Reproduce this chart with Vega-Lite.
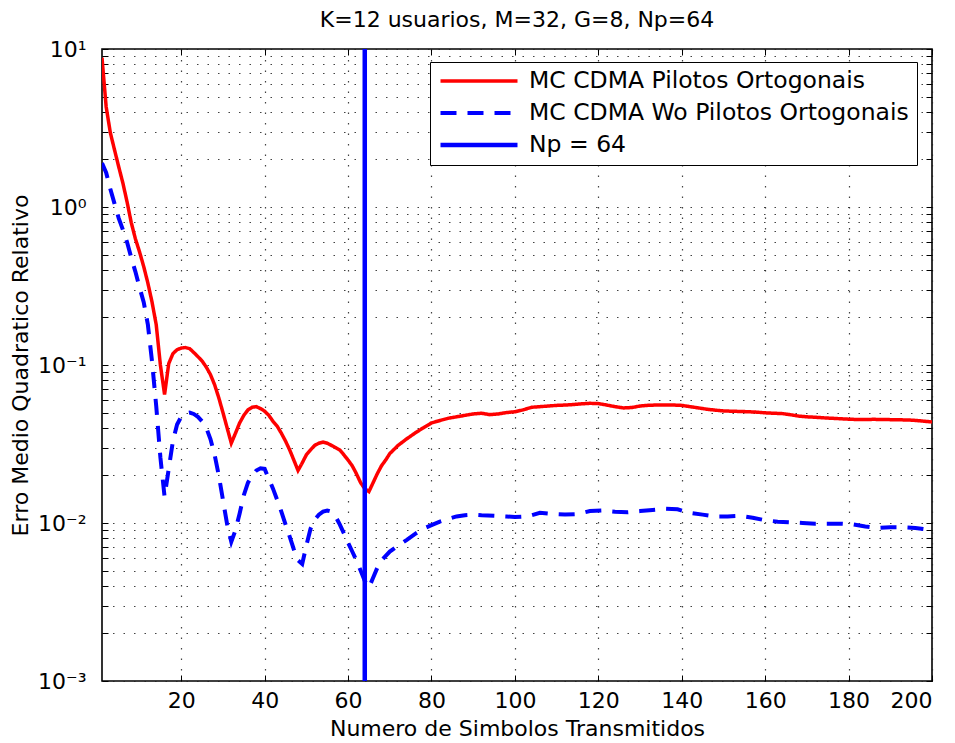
{
  "$schema": "https://vega.github.io/schema/vega-lite/v6.json",
  "width": 830,
  "height": 632,
  "autosize": {"type": "none"},
  "padding": {"left": 102, "top": 49, "right": 23, "bottom": 62},
  "background": "white",
  "title": {"text": "K=12 usuarios, M=32, G=8, Np=64", "font": "DejaVu Sans", "fontSize": 22, "fontWeight": "normal", "color": "black", "offset": 6},
  "resolve": {"axis": {"x": "independent", "y": "independent"}},
  "config": {
    "view": {"stroke": "black", "strokeWidth": 1.6},
    "font": "DejaVu Sans",
    "axis": {"labelFont": "DejaVu Sans", "labelFontSize": 22, "labelColor": "black", "titleFont": "DejaVu Sans", "titleFontSize": 22, "titleFontWeight": "normal", "titleColor": "black", "domain": false, "tickColor": "black", "tickSize": -6, "tickWidth": 1, "gridColor": "#222", "gridDash": [1.5, 9], "gridWidth": 1.2, "gridOpacity": 0.85, "labelOverlap": false},
    "legend": {"orient": "none", "legendX": 328, "legendY": 13, "strokeColor": "black", "fillColor": "white", "padding": 8, "labelFont": "DejaVu Sans", "labelFontSize": 23.5, "labelColor": "black", "symbolType": "stroke", "symbolSize": 5929, "labelOffset": 9, "rowPadding": 8, "clipHeight": 22, "title": null, "symbolOpacity": 1, "labelLimit": 600}
  },
  "datasets": {
    "curvas": [
      {"n": 1, "erro": 8.8, "serie": "MC CDMA Pilotos Ortogonais"},
      {"n": 2, "erro": 4.3, "serie": "MC CDMA Pilotos Ortogonais"},
      {"n": 3, "erro": 2.95, "serie": "MC CDMA Pilotos Ortogonais"},
      {"n": 4, "erro": 2.3, "serie": "MC CDMA Pilotos Ortogonais"},
      {"n": 5, "erro": 1.8, "serie": "MC CDMA Pilotos Ortogonais"},
      {"n": 6, "erro": 1.42, "serie": "MC CDMA Pilotos Ortogonais"},
      {"n": 7, "erro": 1.08, "serie": "MC CDMA Pilotos Ortogonais"},
      {"n": 8, "erro": 0.8, "serie": "MC CDMA Pilotos Ortogonais"},
      {"n": 9, "erro": 0.63, "serie": "MC CDMA Pilotos Ortogonais"},
      {"n": 10, "erro": 0.52, "serie": "MC CDMA Pilotos Ortogonais"},
      {"n": 11, "erro": 0.42, "serie": "MC CDMA Pilotos Ortogonais"},
      {"n": 12, "erro": 0.33, "serie": "MC CDMA Pilotos Ortogonais"},
      {"n": 13, "erro": 0.25, "serie": "MC CDMA Pilotos Ortogonais"},
      {"n": 14, "erro": 0.18, "serie": "MC CDMA Pilotos Ortogonais"},
      {"n": 15, "erro": 0.1, "serie": "MC CDMA Pilotos Ortogonais"},
      {"n": 16, "erro": 0.065, "serie": "MC CDMA Pilotos Ortogonais"},
      {"n": 17, "erro": 0.102, "serie": "MC CDMA Pilotos Ortogonais"},
      {"n": 18, "erro": 0.118, "serie": "MC CDMA Pilotos Ortogonais"},
      {"n": 19, "erro": 0.125, "serie": "MC CDMA Pilotos Ortogonais"},
      {"n": 20, "erro": 0.128, "serie": "MC CDMA Pilotos Ortogonais"},
      {"n": 21, "erro": 0.129, "serie": "MC CDMA Pilotos Ortogonais"},
      {"n": 22, "erro": 0.127, "serie": "MC CDMA Pilotos Ortogonais"},
      {"n": 23, "erro": 0.12, "serie": "MC CDMA Pilotos Ortogonais"},
      {"n": 24, "erro": 0.113, "serie": "MC CDMA Pilotos Ortogonais"},
      {"n": 25, "erro": 0.106, "serie": "MC CDMA Pilotos Ortogonais"},
      {"n": 26, "erro": 0.097, "serie": "MC CDMA Pilotos Ortogonais"},
      {"n": 27, "erro": 0.087, "serie": "MC CDMA Pilotos Ortogonais"},
      {"n": 28, "erro": 0.075, "serie": "MC CDMA Pilotos Ortogonais"},
      {"n": 29, "erro": 0.062, "serie": "MC CDMA Pilotos Ortogonais"},
      {"n": 30, "erro": 0.05, "serie": "MC CDMA Pilotos Ortogonais"},
      {"n": 31, "erro": 0.04, "serie": "MC CDMA Pilotos Ortogonais"},
      {"n": 32, "erro": 0.032, "serie": "MC CDMA Pilotos Ortogonais"},
      {"n": 33, "erro": 0.037, "serie": "MC CDMA Pilotos Ortogonais"},
      {"n": 34, "erro": 0.043, "serie": "MC CDMA Pilotos Ortogonais"},
      {"n": 35, "erro": 0.048, "serie": "MC CDMA Pilotos Ortogonais"},
      {"n": 36, "erro": 0.052, "serie": "MC CDMA Pilotos Ortogonais"},
      {"n": 37, "erro": 0.054, "serie": "MC CDMA Pilotos Ortogonais"},
      {"n": 38, "erro": 0.0545, "serie": "MC CDMA Pilotos Ortogonais"},
      {"n": 39, "erro": 0.053, "serie": "MC CDMA Pilotos Ortogonais"},
      {"n": 40, "erro": 0.051, "serie": "MC CDMA Pilotos Ortogonais"},
      {"n": 41, "erro": 0.048, "serie": "MC CDMA Pilotos Ortogonais"},
      {"n": 42, "erro": 0.044, "serie": "MC CDMA Pilotos Ortogonais"},
      {"n": 43, "erro": 0.041, "serie": "MC CDMA Pilotos Ortogonais"},
      {"n": 44, "erro": 0.037, "serie": "MC CDMA Pilotos Ortogonais"},
      {"n": 45, "erro": 0.033, "serie": "MC CDMA Pilotos Ortogonais"},
      {"n": 46, "erro": 0.029, "serie": "MC CDMA Pilotos Ortogonais"},
      {"n": 47, "erro": 0.025, "serie": "MC CDMA Pilotos Ortogonais"},
      {"n": 48, "erro": 0.0215, "serie": "MC CDMA Pilotos Ortogonais"},
      {"n": 49, "erro": 0.024, "serie": "MC CDMA Pilotos Ortogonais"},
      {"n": 50, "erro": 0.027, "serie": "MC CDMA Pilotos Ortogonais"},
      {"n": 51, "erro": 0.029, "serie": "MC CDMA Pilotos Ortogonais"},
      {"n": 52, "erro": 0.031, "serie": "MC CDMA Pilotos Ortogonais"},
      {"n": 53, "erro": 0.032, "serie": "MC CDMA Pilotos Ortogonais"},
      {"n": 54, "erro": 0.0325, "serie": "MC CDMA Pilotos Ortogonais"},
      {"n": 55, "erro": 0.032, "serie": "MC CDMA Pilotos Ortogonais"},
      {"n": 56, "erro": 0.031, "serie": "MC CDMA Pilotos Ortogonais"},
      {"n": 57, "erro": 0.03, "serie": "MC CDMA Pilotos Ortogonais"},
      {"n": 58, "erro": 0.029, "serie": "MC CDMA Pilotos Ortogonais"},
      {"n": 59, "erro": 0.027, "serie": "MC CDMA Pilotos Ortogonais"},
      {"n": 60, "erro": 0.025, "serie": "MC CDMA Pilotos Ortogonais"},
      {"n": 61, "erro": 0.023, "serie": "MC CDMA Pilotos Ortogonais"},
      {"n": 62, "erro": 0.0205, "serie": "MC CDMA Pilotos Ortogonais"},
      {"n": 63, "erro": 0.018, "serie": "MC CDMA Pilotos Ortogonais"},
      {"n": 64, "erro": 0.0165, "serie": "MC CDMA Pilotos Ortogonais"},
      {"n": 65, "erro": 0.0158, "serie": "MC CDMA Pilotos Ortogonais"},
      {"n": 66, "erro": 0.018, "serie": "MC CDMA Pilotos Ortogonais"},
      {"n": 67, "erro": 0.0205, "serie": "MC CDMA Pilotos Ortogonais"},
      {"n": 68, "erro": 0.023, "serie": "MC CDMA Pilotos Ortogonais"},
      {"n": 69, "erro": 0.025, "serie": "MC CDMA Pilotos Ortogonais"},
      {"n": 70, "erro": 0.0275, "serie": "MC CDMA Pilotos Ortogonais"},
      {"n": 72, "erro": 0.031, "serie": "MC CDMA Pilotos Ortogonais"},
      {"n": 74, "erro": 0.034, "serie": "MC CDMA Pilotos Ortogonais"},
      {"n": 76, "erro": 0.037, "serie": "MC CDMA Pilotos Ortogonais"},
      {"n": 78, "erro": 0.04, "serie": "MC CDMA Pilotos Ortogonais"},
      {"n": 80, "erro": 0.043, "serie": "MC CDMA Pilotos Ortogonais"},
      {"n": 82, "erro": 0.0445, "serie": "MC CDMA Pilotos Ortogonais"},
      {"n": 84, "erro": 0.046, "serie": "MC CDMA Pilotos Ortogonais"},
      {"n": 86, "erro": 0.047, "serie": "MC CDMA Pilotos Ortogonais"},
      {"n": 88, "erro": 0.048, "serie": "MC CDMA Pilotos Ortogonais"},
      {"n": 90, "erro": 0.049, "serie": "MC CDMA Pilotos Ortogonais"},
      {"n": 92, "erro": 0.0495, "serie": "MC CDMA Pilotos Ortogonais"},
      {"n": 94, "erro": 0.0485, "serie": "MC CDMA Pilotos Ortogonais"},
      {"n": 96, "erro": 0.049, "serie": "MC CDMA Pilotos Ortogonais"},
      {"n": 98, "erro": 0.05, "serie": "MC CDMA Pilotos Ortogonais"},
      {"n": 100, "erro": 0.0506, "serie": "MC CDMA Pilotos Ortogonais"},
      {"n": 102, "erro": 0.052, "serie": "MC CDMA Pilotos Ortogonais"},
      {"n": 104, "erro": 0.054, "serie": "MC CDMA Pilotos Ortogonais"},
      {"n": 106, "erro": 0.0545, "serie": "MC CDMA Pilotos Ortogonais"},
      {"n": 108, "erro": 0.055, "serie": "MC CDMA Pilotos Ortogonais"},
      {"n": 110, "erro": 0.0555, "serie": "MC CDMA Pilotos Ortogonais"},
      {"n": 112, "erro": 0.0558, "serie": "MC CDMA Pilotos Ortogonais"},
      {"n": 114, "erro": 0.0562, "serie": "MC CDMA Pilotos Ortogonais"},
      {"n": 116, "erro": 0.0568, "serie": "MC CDMA Pilotos Ortogonais"},
      {"n": 118, "erro": 0.0572, "serie": "MC CDMA Pilotos Ortogonais"},
      {"n": 120, "erro": 0.057, "serie": "MC CDMA Pilotos Ortogonais"},
      {"n": 122, "erro": 0.0558, "serie": "MC CDMA Pilotos Ortogonais"},
      {"n": 124, "erro": 0.0545, "serie": "MC CDMA Pilotos Ortogonais"},
      {"n": 126, "erro": 0.0535, "serie": "MC CDMA Pilotos Ortogonais"},
      {"n": 128, "erro": 0.0538, "serie": "MC CDMA Pilotos Ortogonais"},
      {"n": 130, "erro": 0.055, "serie": "MC CDMA Pilotos Ortogonais"},
      {"n": 132, "erro": 0.0556, "serie": "MC CDMA Pilotos Ortogonais"},
      {"n": 134, "erro": 0.0558, "serie": "MC CDMA Pilotos Ortogonais"},
      {"n": 136, "erro": 0.0558, "serie": "MC CDMA Pilotos Ortogonais"},
      {"n": 138, "erro": 0.0558, "serie": "MC CDMA Pilotos Ortogonais"},
      {"n": 140, "erro": 0.0555, "serie": "MC CDMA Pilotos Ortogonais"},
      {"n": 142, "erro": 0.0545, "serie": "MC CDMA Pilotos Ortogonais"},
      {"n": 144, "erro": 0.0535, "serie": "MC CDMA Pilotos Ortogonais"},
      {"n": 146, "erro": 0.0525, "serie": "MC CDMA Pilotos Ortogonais"},
      {"n": 148, "erro": 0.0518, "serie": "MC CDMA Pilotos Ortogonais"},
      {"n": 150, "erro": 0.0512, "serie": "MC CDMA Pilotos Ortogonais"},
      {"n": 152, "erro": 0.051, "serie": "MC CDMA Pilotos Ortogonais"},
      {"n": 154, "erro": 0.0508, "serie": "MC CDMA Pilotos Ortogonais"},
      {"n": 156, "erro": 0.0506, "serie": "MC CDMA Pilotos Ortogonais"},
      {"n": 158, "erro": 0.0503, "serie": "MC CDMA Pilotos Ortogonais"},
      {"n": 160, "erro": 0.0498, "serie": "MC CDMA Pilotos Ortogonais"},
      {"n": 162, "erro": 0.0495, "serie": "MC CDMA Pilotos Ortogonais"},
      {"n": 164, "erro": 0.0493, "serie": "MC CDMA Pilotos Ortogonais"},
      {"n": 166, "erro": 0.0485, "serie": "MC CDMA Pilotos Ortogonais"},
      {"n": 168, "erro": 0.0475, "serie": "MC CDMA Pilotos Ortogonais"},
      {"n": 170, "erro": 0.047, "serie": "MC CDMA Pilotos Ortogonais"},
      {"n": 172, "erro": 0.0467, "serie": "MC CDMA Pilotos Ortogonais"},
      {"n": 174, "erro": 0.0463, "serie": "MC CDMA Pilotos Ortogonais"},
      {"n": 176, "erro": 0.046, "serie": "MC CDMA Pilotos Ortogonais"},
      {"n": 178, "erro": 0.0457, "serie": "MC CDMA Pilotos Ortogonais"},
      {"n": 180, "erro": 0.0454, "serie": "MC CDMA Pilotos Ortogonais"},
      {"n": 182, "erro": 0.0452, "serie": "MC CDMA Pilotos Ortogonais"},
      {"n": 184, "erro": 0.0452, "serie": "MC CDMA Pilotos Ortogonais"},
      {"n": 186, "erro": 0.0453, "serie": "MC CDMA Pilotos Ortogonais"},
      {"n": 188, "erro": 0.0452, "serie": "MC CDMA Pilotos Ortogonais"},
      {"n": 190, "erro": 0.0451, "serie": "MC CDMA Pilotos Ortogonais"},
      {"n": 192, "erro": 0.045, "serie": "MC CDMA Pilotos Ortogonais"},
      {"n": 194, "erro": 0.0449, "serie": "MC CDMA Pilotos Ortogonais"},
      {"n": 196, "erro": 0.0446, "serie": "MC CDMA Pilotos Ortogonais"},
      {"n": 198, "erro": 0.0441, "serie": "MC CDMA Pilotos Ortogonais"},
      {"n": 200, "erro": 0.0436, "serie": "MC CDMA Pilotos Ortogonais"},
      {"n": 1, "erro": 1.9, "serie": "MC CDMA Wo Pilotos Ortogonais"},
      {"n": 2, "erro": 1.65, "serie": "MC CDMA Wo Pilotos Ortogonais"},
      {"n": 3, "erro": 1.3, "serie": "MC CDMA Wo Pilotos Ortogonais"},
      {"n": 4, "erro": 1.05, "serie": "MC CDMA Wo Pilotos Ortogonais"},
      {"n": 5, "erro": 0.85, "serie": "MC CDMA Wo Pilotos Ortogonais"},
      {"n": 6, "erro": 0.72, "serie": "MC CDMA Wo Pilotos Ortogonais"},
      {"n": 7, "erro": 0.6, "serie": "MC CDMA Wo Pilotos Ortogonais"},
      {"n": 8, "erro": 0.48, "serie": "MC CDMA Wo Pilotos Ortogonais"},
      {"n": 9, "erro": 0.39, "serie": "MC CDMA Wo Pilotos Ortogonais"},
      {"n": 10, "erro": 0.31, "serie": "MC CDMA Wo Pilotos Ortogonais"},
      {"n": 11, "erro": 0.25, "serie": "MC CDMA Wo Pilotos Ortogonais"},
      {"n": 12, "erro": 0.18, "serie": "MC CDMA Wo Pilotos Ortogonais"},
      {"n": 13, "erro": 0.105, "serie": "MC CDMA Wo Pilotos Ortogonais"},
      {"n": 14, "erro": 0.055, "serie": "MC CDMA Wo Pilotos Ortogonais"},
      {"n": 15, "erro": 0.026, "serie": "MC CDMA Wo Pilotos Ortogonais"},
      {"n": 16, "erro": 0.0147, "serie": "MC CDMA Wo Pilotos Ortogonais"},
      {"n": 17, "erro": 0.022, "serie": "MC CDMA Wo Pilotos Ortogonais"},
      {"n": 18, "erro": 0.033, "serie": "MC CDMA Wo Pilotos Ortogonais"},
      {"n": 19, "erro": 0.042, "serie": "MC CDMA Wo Pilotos Ortogonais"},
      {"n": 20, "erro": 0.047, "serie": "MC CDMA Wo Pilotos Ortogonais"},
      {"n": 21, "erro": 0.0495, "serie": "MC CDMA Wo Pilotos Ortogonais"},
      {"n": 22, "erro": 0.05, "serie": "MC CDMA Wo Pilotos Ortogonais"},
      {"n": 23, "erro": 0.049, "serie": "MC CDMA Wo Pilotos Ortogonais"},
      {"n": 24, "erro": 0.047, "serie": "MC CDMA Wo Pilotos Ortogonais"},
      {"n": 25, "erro": 0.044, "serie": "MC CDMA Wo Pilotos Ortogonais"},
      {"n": 26, "erro": 0.04, "serie": "MC CDMA Wo Pilotos Ortogonais"},
      {"n": 27, "erro": 0.034, "serie": "MC CDMA Wo Pilotos Ortogonais"},
      {"n": 28, "erro": 0.027, "serie": "MC CDMA Wo Pilotos Ortogonais"},
      {"n": 29, "erro": 0.02, "serie": "MC CDMA Wo Pilotos Ortogonais"},
      {"n": 30, "erro": 0.014, "serie": "MC CDMA Wo Pilotos Ortogonais"},
      {"n": 31, "erro": 0.0098, "serie": "MC CDMA Wo Pilotos Ortogonais"},
      {"n": 32, "erro": 0.0076, "serie": "MC CDMA Wo Pilotos Ortogonais"},
      {"n": 33, "erro": 0.009, "serie": "MC CDMA Wo Pilotos Ortogonais"},
      {"n": 34, "erro": 0.0115, "serie": "MC CDMA Wo Pilotos Ortogonais"},
      {"n": 35, "erro": 0.015, "serie": "MC CDMA Wo Pilotos Ortogonais"},
      {"n": 36, "erro": 0.018, "serie": "MC CDMA Wo Pilotos Ortogonais"},
      {"n": 37, "erro": 0.02, "serie": "MC CDMA Wo Pilotos Ortogonais"},
      {"n": 38, "erro": 0.0215, "serie": "MC CDMA Wo Pilotos Ortogonais"},
      {"n": 39, "erro": 0.0222, "serie": "MC CDMA Wo Pilotos Ortogonais"},
      {"n": 40, "erro": 0.022, "serie": "MC CDMA Wo Pilotos Ortogonais"},
      {"n": 41, "erro": 0.019, "serie": "MC CDMA Wo Pilotos Ortogonais"},
      {"n": 42, "erro": 0.0165, "serie": "MC CDMA Wo Pilotos Ortogonais"},
      {"n": 43, "erro": 0.014, "serie": "MC CDMA Wo Pilotos Ortogonais"},
      {"n": 44, "erro": 0.0118, "serie": "MC CDMA Wo Pilotos Ortogonais"},
      {"n": 45, "erro": 0.0098, "serie": "MC CDMA Wo Pilotos Ortogonais"},
      {"n": 46, "erro": 0.0082, "serie": "MC CDMA Wo Pilotos Ortogonais"},
      {"n": 47, "erro": 0.0068, "serie": "MC CDMA Wo Pilotos Ortogonais"},
      {"n": 48, "erro": 0.0058, "serie": "MC CDMA Wo Pilotos Ortogonais"},
      {"n": 49, "erro": 0.0055, "serie": "MC CDMA Wo Pilotos Ortogonais"},
      {"n": 50, "erro": 0.0072, "serie": "MC CDMA Wo Pilotos Ortogonais"},
      {"n": 51, "erro": 0.0092, "serie": "MC CDMA Wo Pilotos Ortogonais"},
      {"n": 52, "erro": 0.0105, "serie": "MC CDMA Wo Pilotos Ortogonais"},
      {"n": 53, "erro": 0.0113, "serie": "MC CDMA Wo Pilotos Ortogonais"},
      {"n": 54, "erro": 0.0118, "serie": "MC CDMA Wo Pilotos Ortogonais"},
      {"n": 55, "erro": 0.012, "serie": "MC CDMA Wo Pilotos Ortogonais"},
      {"n": 56, "erro": 0.0118, "serie": "MC CDMA Wo Pilotos Ortogonais"},
      {"n": 57, "erro": 0.011, "serie": "MC CDMA Wo Pilotos Ortogonais"},
      {"n": 58, "erro": 0.0098, "serie": "MC CDMA Wo Pilotos Ortogonais"},
      {"n": 59, "erro": 0.0086, "serie": "MC CDMA Wo Pilotos Ortogonais"},
      {"n": 60, "erro": 0.0075, "serie": "MC CDMA Wo Pilotos Ortogonais"},
      {"n": 61, "erro": 0.0066, "serie": "MC CDMA Wo Pilotos Ortogonais"},
      {"n": 62, "erro": 0.0058, "serie": "MC CDMA Wo Pilotos Ortogonais"},
      {"n": 63, "erro": 0.005, "serie": "MC CDMA Wo Pilotos Ortogonais"},
      {"n": 64, "erro": 0.0043, "serie": "MC CDMA Wo Pilotos Ortogonais"},
      {"n": 65, "erro": 0.0039, "serie": "MC CDMA Wo Pilotos Ortogonais"},
      {"n": 66, "erro": 0.0045, "serie": "MC CDMA Wo Pilotos Ortogonais"},
      {"n": 67, "erro": 0.0052, "serie": "MC CDMA Wo Pilotos Ortogonais"},
      {"n": 68, "erro": 0.0058, "serie": "MC CDMA Wo Pilotos Ortogonais"},
      {"n": 70, "erro": 0.0066, "serie": "MC CDMA Wo Pilotos Ortogonais"},
      {"n": 72, "erro": 0.0072, "serie": "MC CDMA Wo Pilotos Ortogonais"},
      {"n": 74, "erro": 0.0078, "serie": "MC CDMA Wo Pilotos Ortogonais"},
      {"n": 76, "erro": 0.0085, "serie": "MC CDMA Wo Pilotos Ortogonais"},
      {"n": 78, "erro": 0.0092, "serie": "MC CDMA Wo Pilotos Ortogonais"},
      {"n": 80, "erro": 0.0097, "serie": "MC CDMA Wo Pilotos Ortogonais"},
      {"n": 82, "erro": 0.0102, "serie": "MC CDMA Wo Pilotos Ortogonais"},
      {"n": 84, "erro": 0.0106, "serie": "MC CDMA Wo Pilotos Ortogonais"},
      {"n": 86, "erro": 0.011, "serie": "MC CDMA Wo Pilotos Ortogonais"},
      {"n": 88, "erro": 0.0112, "serie": "MC CDMA Wo Pilotos Ortogonais"},
      {"n": 90, "erro": 0.0113, "serie": "MC CDMA Wo Pilotos Ortogonais"},
      {"n": 92, "erro": 0.0112, "serie": "MC CDMA Wo Pilotos Ortogonais"},
      {"n": 95, "erro": 0.0111, "serie": "MC CDMA Wo Pilotos Ortogonais"},
      {"n": 98, "erro": 0.011, "serie": "MC CDMA Wo Pilotos Ortogonais"},
      {"n": 100, "erro": 0.0109, "serie": "MC CDMA Wo Pilotos Ortogonais"},
      {"n": 103, "erro": 0.011, "serie": "MC CDMA Wo Pilotos Ortogonais"},
      {"n": 106, "erro": 0.0116, "serie": "MC CDMA Wo Pilotos Ortogonais"},
      {"n": 109, "erro": 0.0114, "serie": "MC CDMA Wo Pilotos Ortogonais"},
      {"n": 112, "erro": 0.0113, "serie": "MC CDMA Wo Pilotos Ortogonais"},
      {"n": 115, "erro": 0.0114, "serie": "MC CDMA Wo Pilotos Ortogonais"},
      {"n": 118, "erro": 0.0119, "serie": "MC CDMA Wo Pilotos Ortogonais"},
      {"n": 121, "erro": 0.012, "serie": "MC CDMA Wo Pilotos Ortogonais"},
      {"n": 124, "erro": 0.0118, "serie": "MC CDMA Wo Pilotos Ortogonais"},
      {"n": 127, "erro": 0.0117, "serie": "MC CDMA Wo Pilotos Ortogonais"},
      {"n": 130, "erro": 0.0119, "serie": "MC CDMA Wo Pilotos Ortogonais"},
      {"n": 133, "erro": 0.0121, "serie": "MC CDMA Wo Pilotos Ortogonais"},
      {"n": 136, "erro": 0.0123, "serie": "MC CDMA Wo Pilotos Ortogonais"},
      {"n": 139, "erro": 0.0122, "serie": "MC CDMA Wo Pilotos Ortogonais"},
      {"n": 142, "erro": 0.0116, "serie": "MC CDMA Wo Pilotos Ortogonais"},
      {"n": 145, "erro": 0.0113, "serie": "MC CDMA Wo Pilotos Ortogonais"},
      {"n": 148, "erro": 0.011, "serie": "MC CDMA Wo Pilotos Ortogonais"},
      {"n": 151, "erro": 0.011, "serie": "MC CDMA Wo Pilotos Ortogonais"},
      {"n": 154, "erro": 0.0111, "serie": "MC CDMA Wo Pilotos Ortogonais"},
      {"n": 157, "erro": 0.0108, "serie": "MC CDMA Wo Pilotos Ortogonais"},
      {"n": 160, "erro": 0.0104, "serie": "MC CDMA Wo Pilotos Ortogonais"},
      {"n": 163, "erro": 0.0102, "serie": "MC CDMA Wo Pilotos Ortogonais"},
      {"n": 166, "erro": 0.0101, "serie": "MC CDMA Wo Pilotos Ortogonais"},
      {"n": 169, "erro": 0.01, "serie": "MC CDMA Wo Pilotos Ortogonais"},
      {"n": 172, "erro": 0.0099, "serie": "MC CDMA Wo Pilotos Ortogonais"},
      {"n": 175, "erro": 0.0099, "serie": "MC CDMA Wo Pilotos Ortogonais"},
      {"n": 178, "erro": 0.0099, "serie": "MC CDMA Wo Pilotos Ortogonais"},
      {"n": 181, "erro": 0.0098, "serie": "MC CDMA Wo Pilotos Ortogonais"},
      {"n": 184, "erro": 0.0095, "serie": "MC CDMA Wo Pilotos Ortogonais"},
      {"n": 187, "erro": 0.0093, "serie": "MC CDMA Wo Pilotos Ortogonais"},
      {"n": 190, "erro": 0.0094, "serie": "MC CDMA Wo Pilotos Ortogonais"},
      {"n": 193, "erro": 0.0094, "serie": "MC CDMA Wo Pilotos Ortogonais"},
      {"n": 196, "erro": 0.0093, "serie": "MC CDMA Wo Pilotos Ortogonais"},
      {"n": 200, "erro": 0.009, "serie": "MC CDMA Wo Pilotos Ortogonais"}
    ],
    "np": [{"n": 64, "serie": "Np = 64"}]
  },
  "layer": [
    {
      "data": {"name": "curvas"},
      "mark": {"type": "line", "clip": true},
      "encoding": {
        "x": {"field": "n", "type": "quantitative", "scale": {"domain": [1, 200], "nice": false, "zero": false},
              "axis": {"values": [20, 40, 60, 80, 100, 120, 140, 160, 180, 200], "grid": true, "labelPadding": 15, "title": "Numero de Simbolos Transmitidos", "titlePadding": 7}},
        "y": {"field": "erro", "type": "quantitative", "scale": {"type": "log", "domain": [0.001, 10], "nice": false},
              "axis": {"values": [0.001, 0.002, 0.003, 0.004, 0.005, 0.006, 0.007, 0.008, 0.009, 0.01, 0.02, 0.03, 0.04, 0.05, 0.06, 0.07, 0.08, 0.09, 0.1, 0.2, 0.3, 0.4, 0.5, 0.6, 0.7, 0.8, 0.9, 1, 2, 3, 4, 5, 6, 7, 8, 9, 10],
                       "labelExpr": "datum.value == 10 ? '10¹' : datum.value == 1 ? '10⁰' : datum.value == 0.1 ? '10⁻¹' : datum.value == 0.01 ? '10⁻²' : datum.value == 0.001 ? '10⁻³' : ''",
                       "grid": true, "labelPadding": 22, "title": "Erro Medio Quadratico Relativo", "titlePadding": 5}},
        "color": {"field": "serie", "type": "nominal", "scale": {"domain": ["MC CDMA Pilotos Ortogonais", "MC CDMA Wo Pilotos Ortogonais", "Np = 64"], "range": ["#ff0000", "#0000ff", "#0000ff"]}},
        "strokeDash": {"field": "serie", "type": "nominal", "scale": {"domain": ["MC CDMA Pilotos Ortogonais", "MC CDMA Wo Pilotos Ortogonais", "Np = 64"], "range": [[1, 0], [16, 11], [1, 0]]}},
        "strokeWidth": {"field": "serie", "type": "nominal", "scale": {"domain": ["MC CDMA Pilotos Ortogonais", "MC CDMA Wo Pilotos Ortogonais", "Np = 64"], "range": [3.5, 4.5, 7]}}
      }
    },
    {
      "data": {"name": "np"},
      "mark": {"type": "rule"},
      "encoding": {
        "x": {"field": "n", "type": "quantitative", "axis": null},
        "color": {"field": "serie", "type": "nominal"},
        "strokeDash": {"field": "serie", "type": "nominal"},
        "strokeWidth": {"field": "serie", "type": "nominal"}
      }
    },
    {
      "data": {"name": "curvas"},
      "mark": {"type": "line", "opacity": 0},
      "encoding": {
        "x": {"field": "n", "type": "quantitative",
              "axis": {"orient": "top", "values": [20, 40, 60, 80, 100, 120, 140, 160, 180, 200], "labels": false, "grid": false, "title": null}},
        "y": {"field": "erro", "type": "quantitative",
              "axis": {"orient": "right", "values": [0.001, 0.002, 0.003, 0.004, 0.005, 0.006, 0.007, 0.008, 0.009, 0.01, 0.02, 0.03, 0.04, 0.05, 0.06, 0.07, 0.08, 0.09, 0.1, 0.2, 0.3, 0.4, 0.5, 0.6, 0.7, 0.8, 0.9, 1, 2, 3, 4, 5, 6, 7, 8, 9, 10], "labels": false, "grid": false, "title": null}},
        "detail": {"field": "serie", "type": "nominal"}
      }
    }
  ]
}
